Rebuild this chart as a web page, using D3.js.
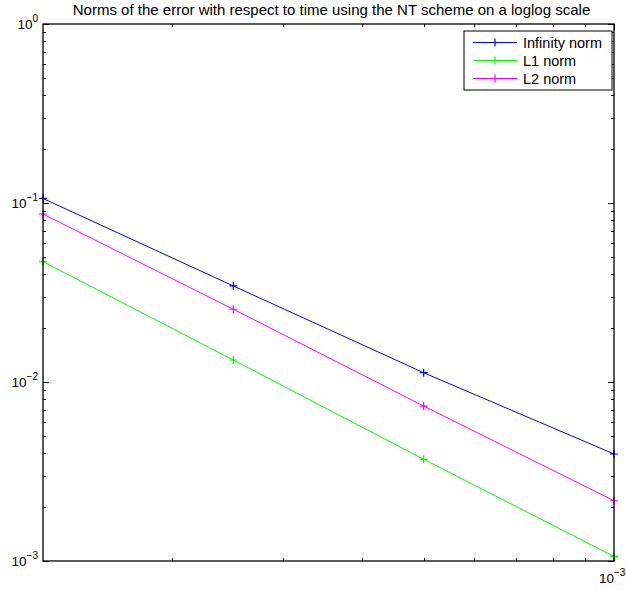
<!DOCTYPE html>
<html>
<head>
<meta charset="utf-8">
<script src="https://cdn.jsdelivr.net/npm/d3@7"></script>
<style>
  html, body { margin: 0; padding: 0; background: #fff; }
  svg { display: block; font-family: "Liberation Sans", Arial, Helvetica, sans-serif; }
</style>
</head>
<body>
<svg id="chart" width="626" height="590"></svg>
<script>
// Time step sizes and error norms of the NT scheme
const timeSteps = [1.25e-4, 2.5e-4, 5e-4, 1e-3];
const infNorm = [0.106, 0.0344, 0.01127, 0.00396];
const l1Norm = [0.047, 0.01327, 0.0037, 0.00106];
const l2Norm = [0.0868, 0.0255, 0.00734, 0.00217];

const seriesNames = ["Infinity norm", "L1 norm", "L2 norm"];
const seriesColors = ["#0000ff", "#00ff00", "#ff00ff"];

// Axis ranges and decade tick exponents
const xDomain = [1.25e-4, 1e-3];
const yDomain = [1e-3, 1];
const xTickExponents = [-3];
const yTickExponents = [0, -1, -2, -3];

const title = "Norms of the error with respect to time using the NT scheme on a loglog scale";

const margin = { left: 43, right: 12, top: 24, bottom: 29 };
const W = 626, H = 590;
const svg = d3.select("#chart");

const x = d3.scaleLog().domain(xDomain).range([margin.left, W - margin.right]);
const y = d3.scaleLog().domain(yDomain).range([H - margin.bottom, margin.top]);

const x0 = x.range()[0], x1 = x.range()[1];
const y0 = y.range()[0], y1 = y.range()[1];

// Minor ticks: 2..9 times each power of ten inside the domain
function minorTicks(domain) {
  const out = [];
  const lo = Math.floor(Math.log10(domain[0])), hi = Math.ceil(Math.log10(domain[1]));
  for (let e = lo; e <= hi; e++) {
    for (let m = 2; m <= 9; m++) {
      const v = m * Math.pow(10, e);
      if (v > domain[0] * 1.0001 && v < domain[1] * 0.9999) out.push(v);
    }
  }
  return out;
}

const axisG = svg.append("g").attr("stroke", "#000").attr("stroke-width", 1);

// Y ticks on left and right edges, pointing inward
const yMajor = yTickExponents.map(e => Math.pow(10, e));
const yMinor = minorTicks(yDomain);
function yTick(v, len) {
  const py = Math.round(y(v)) + 0.5;
  axisG.append("line").attr("x1", x0).attr("x2", x0 + len).attr("y1", py).attr("y2", py);
  axisG.append("line").attr("x1", x1).attr("x2", x1 - len).attr("y1", py).attr("y2", py);
}
yMajor.forEach(v => yTick(v, 6));
yMinor.forEach(v => yTick(v, 3));

// X ticks on bottom and top edges
const xMajor = xTickExponents.map(e => Math.pow(10, e));
const xMinor = minorTicks(xDomain);
function xTick(v, len) {
  const px = Math.round(x(v)) + 0.5;
  axisG.append("line").attr("x1", px).attr("x2", px).attr("y1", y0).attr("y2", y0 - len);
  axisG.append("line").attr("x1", px).attr("x2", px).attr("y1", y1).attr("y2", y1 + len);
}
xMajor.forEach(v => xTick(v, 6));
xMinor.forEach(v => xTick(v, 3));

// Series lines with plus markers
const series = [infNorm, l1Norm, l2Norm];
const line = d3.line().x(d => x(d[0])).y(d => y(d[1]));
const plotG = svg.append("g");
series.forEach((vals, i) => {
  const pts = timeSteps.map((t, k) => [t, vals[k]]);
  plotG.append("path")
    .attr("d", line(pts))
    .attr("fill", "none")
    .attr("stroke", seriesColors[i])
    .attr("stroke-width", 1);
  pts.forEach(p => {
    const cx = x(p[0]), cy = y(p[1]), r = 4;
    plotG.append("path")
      .attr("d", `M${cx - r},${cy}H${cx + r}M${cx},${cy - r}V${cy + r}`)
      .attr("stroke", seriesColors[i])
      .attr("stroke-width", 1.2);
  });
});

// Frame
svg.append("rect")
  .attr("x", x0).attr("y", y1)
  .attr("width", x1 - x0).attr("height", y0 - y1)
  .attr("fill", "none").attr("stroke", "#000").attr("stroke-width", 1.3);

// Power-of-ten labels
function powerLabel(g, exp, xPos, yPos, anchor) {
  const t = g.append("text")
    .attr("x", xPos).attr("y", yPos)
    .attr("text-anchor", anchor)
    .attr("font-size", 13.5)
    .attr("fill", "#000");
  t.append("tspan").text("10");
  t.append("tspan").attr("font-size", 10).attr("dy", -7).text(exp === 0 ? "0" : "\u2212" + Math.abs(exp));
}
const labelG = svg.append("g");
yTickExponents.forEach(e => powerLabel(labelG, e, x0 - 5, y(Math.pow(10, e)) + 5, "end"));
xTickExponents.forEach(e => powerLabel(labelG, e, x(Math.pow(10, e)) - 15, y0 + 22, "start"));

// Title
svg.append("text")
  .attr("x", (x0 + x1) / 2 + 3).attr("y", 15)
  .attr("text-anchor", "middle")
  .attr("font-size", 15)
  .attr("fill", "#000")
  .text(title);

// Legend
const lg = svg.append("g");
const lx = 464, ly = 31, lw = 148, lh = 59;
lg.append("rect").attr("x", lx).attr("y", ly).attr("width", lw).attr("height", lh)
  .attr("fill", "#fff").attr("stroke", "#000").attr("stroke-width", 1);
seriesNames.forEach((name, i) => {
  const ry = ly + 11.5 + i * 18;
  lg.append("line").attr("x1", lx + 9).attr("x2", lx + 53).attr("y1", ry).attr("y2", ry)
    .attr("stroke", seriesColors[i]).attr("stroke-width", 1);
  lg.append("path").attr("d", `M${lx + 27},${ry}H${lx + 35}M${lx + 31},${ry - 4}V${ry + 4}`)
    .attr("stroke", seriesColors[i]).attr("stroke-width", 1.2);
  lg.append("text").attr("x", lx + 59).attr("y", ry + 5)
    .attr("font-size", 14.5).attr("fill", "#000").text(name);
});
</script>
</body>
</html>
